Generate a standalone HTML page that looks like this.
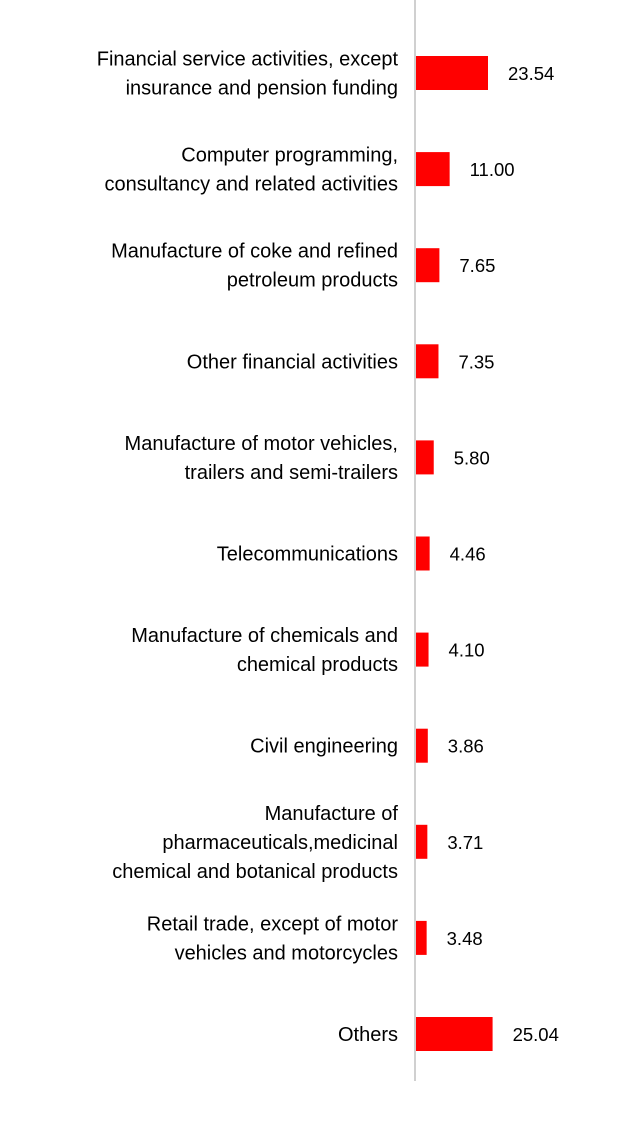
<!DOCTYPE html>
<html><head><meta charset="utf-8"><style>
body{margin:0;background:#fff;}
svg{display:block;font-family:"Liberation Sans",sans-serif;}
</style></head><body>
<svg width="629" height="1121">
<line x1="415" y1="0" x2="415" y2="1081" stroke="#d0d0d0" stroke-width="2"/>
<g id="g"></g>
</svg>
<script>
const categories = [
 ["Financial service activities, except","insurance and pension funding"],
 ["Computer programming,","consultancy and related activities"],
 ["Manufacture of coke and refined","petroleum products"],
 ["Other financial activities"],
 ["Manufacture of motor vehicles,","trailers and semi-trailers"],
 ["Telecommunications"],
 ["Manufacture of chemicals and","chemical products"],
 ["Civil engineering"],
 ["Manufacture of","pharmaceuticals,medicinal","chemical and botanical products"],
 ["Retail trade, except of motor","vehicles and motorcycles"],
 ["Others"]
];
const values = [23.54,11.00,7.65,7.35,5.80,4.46,4.10,3.86,3.71,3.48,25.04];
const valueLabels = ["23.54","11.00","7.65","7.35","5.80","4.46","4.10","3.86","3.71","3.48","25.04"];
const NS="http://www.w3.org/2000/svg";
const g=document.getElementById('g');
const x0=416, scale=72/23.54;
const xs=v=>x0+v*scale;
const yc=i=>73+i*96.1;
const bh=34;
values.forEach((v,i)=>{
  const r=document.createElementNS(NS,'rect');
  
  
  r.setAttribute('x',x0);r.setAttribute('y',yc(i)-bh/2);
  r.setAttribute('width',xs(v)-x0);r.setAttribute('height',bh);
  r.setAttribute('fill','#ff0000');
  g.appendChild(r);
  const t=document.createElementNS(NS,'text');
  
  
  t.setAttribute('x',xs(v)+20);t.setAttribute('y',yc(i)+7);
  t.setAttribute('font-size','18.5');t.setAttribute('fill','#000');
  t.textContent=valueLabels[i];
  g.appendChild(t);
  const lines=categories[i];
  const lh=29;
  const start=yc(i)-(lines.length-1)*lh/2+7;
  lines.forEach((ln,j)=>{
    const c=document.createElementNS(NS,'text');
    
    
    c.setAttribute('x',398);c.setAttribute('y',start+j*lh);
    c.setAttribute('text-anchor','end');
    c.setAttribute('font-size','20');c.setAttribute('fill','#000');
    c.textContent=ln;
    g.appendChild(c);
  });
});
</script>
</body></html>
